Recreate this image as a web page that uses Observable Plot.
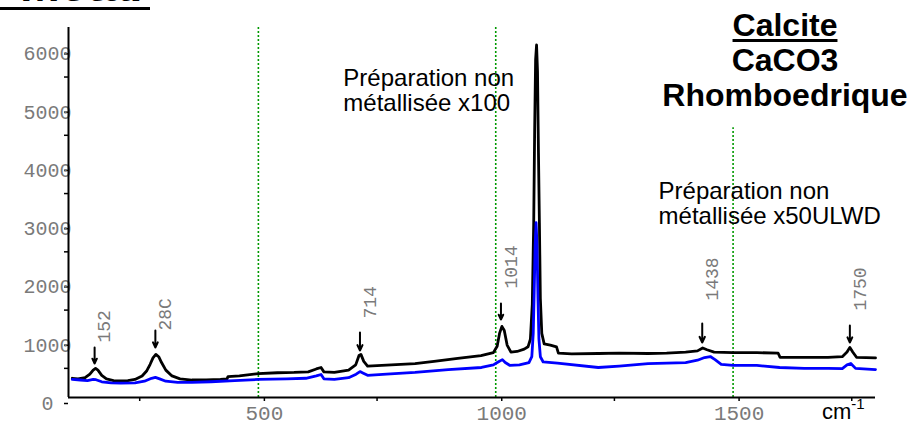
<!DOCTYPE html>
<html><head><meta charset="utf-8">
<script src="https://cdn.jsdelivr.net/npm/d3@7"></script>
<script src="https://cdn.jsdelivr.net/npm/@observablehq/plot@0.6"></script>
<style>
body{margin:0;background:#fff;}
#wrap{position:relative;width:922px;height:425px;overflow:hidden;background:#fff;}
#wrap svg{position:absolute;left:0;top:0;}
.title{position:absolute;left:635px;top:8px;width:300px;text-align:center;font:bold 32px/35px "Liberation Sans",Arial,sans-serif;color:#000;}
.title u{text-decoration-thickness:3px;text-underline-offset:3px;}
.cut{position:absolute;left:20px;top:-39px;font:bold 48px/48px "Liberation Sans",Arial,sans-serif;color:#000;}
.bar{position:absolute;left:0;top:7px;width:150px;height:3px;background:#000;}
.unit{position:absolute;left:822px;top:397px;font:22px "Liberation Sans",Arial,sans-serif;color:#000;}
.unit sup{font-size:15px;position:relative;top:-2px;}
</style></head><body><div id="wrap"></div>
<script>
// Black spectrum: "Préparation non métallisée x100"
const blackWavenumber = [108,120,135,145,152,157,162,170,180,195,210,225,240,255,265,272,278,284,290,296,305,318,335,360,390,420,434,436,460,500,540,575,605,622,632,638,660,690,705,712,716,722,730,760,800,830,870,920,969,995,1003,1008,1013,1018,1024,1032,1045,1060,1068,1073,1077,1080,1082,1084,1086,1088,1090,1092,1094,1097,1102,1115,1128,1132,1160,1216,1260,1321,1360,1400,1425,1436,1445,1460,1500,1550,1595,1599,1650,1700,1730,1740,1746,1752,1760,1800];
const blackIntensity  = [330,320,340,400,470,500,470,380,320,290,285,290,310,370,460,570,680,740,700,600,470,370,320,300,300,310,320,360,370,410,425,430,440,490,515,440,430,470,560,720,740,620,540,550,570,583,620,670,720,770,880,1100,1220,1150,900,780,790,830,870,1000,1600,3000,4600,5800,6050,5600,4200,3000,1700,1100,920,900,870,760,750,755,760,755,760,780,800,850,820,780,770,770,760,690,690,690,700,780,860,780,690,680];
// Blue spectrum: "Préparation non métallisée x50ULWD"
const blueWavenumber = [108,125,140,152,158,170,190,210,240,260,275,283,292,305,330,360,400,450,500,560,600,622,632,638,660,690,706,714,720,730,770,830,900,970,995,1005,1014,1020,1030,1050,1070,1076,1079,1081,1083,1085,1087,1089,1091,1094,1100,1130,1216,1260,1321,1400,1425,1440,1452,1462,1475,1500,1550,1598,1650,1700,1730,1740,1748,1758,1800];
const blueIntensity  = [310,300,290,310,305,270,250,245,250,280,330,345,320,280,260,260,270,290,310,320,330,370,395,320,310,340,400,445,420,380,400,430,480,515,560,610,650,600,550,560,600,700,1100,1800,2600,3000,2600,1700,1000,700,610,590,515,540,583,600,640,686,703,650,570,550,550,515,500,500,497,560,583,500,480];

// Peak annotations (wavenumber, label, arrow tail/tip and label base in intensity units)
const peakWavenumber = [155,283,714,1011,1435,1746];
const peakLabel      = ["152","28C","714","1014","1438","1750"];
const arrowTail      = [858,1150,1115,1612,1270,1235];
const arrowTip       = [583,858,806,1338,943,943];
const labelBase      = [943,1150,1355,1870,1664,1492];

// Green dotted guide lines
const guideWavenumber = [500,1000,1500];
const guideTop        = [6350,6350,4630];

// Axis ticks
const yTicks = [0,1000,2000,3000,4000,5000,6000];
const yMinorTicks = [500,1500,2500,3500,4500,5500];
const xTicks = [500,1000,1500];
const xMinorTicks = [250,750,1250,1750];

// Text notes
const noteText = ["Préparation non\nmétallisée x100","Préparation non\nmétallisée x50ULWD"];
const noteWavenumber = [679,1343];
const noteIntensity = [5643,3705];

const black = blackWavenumber.map((x,i)=>({x, y: blackIntensity[i]}));
const blue = blueWavenumber.map((x,i)=>({x, y: blueIntensity[i]}));
const peaks = peakWavenumber.map((x,i)=>({x, label: peakLabel[i], y1: arrowTail[i], y2: arrowTip[i], ly: labelBase[i]}));
const guides = guideWavenumber.map((x,i)=>({x, top: guideTop[i]}));
const notes = noteText.map((t,i)=>({t, x: noteWavenumber[i], y: noteIntensity[i]}));

const mono = "Liberation Mono, Courier New, monospace";
const sans = "Liberation Sans, Arial, sans-serif";
const grey = "#7a7a7a";

const chart = Plot.plot({
  width: 922, height: 425,
  marginLeft: 68, marginRight: 47, marginTop: 27, marginBottom: 28,
  x: {domain: [100,1800], label: null},
  y: {domain: [0,6350], label: null},
  style: {background: "#fff", fontFamily: mono},
  marks: [
    Plot.ruleX(guides, {x: "x", y1: 0, y2: "top", stroke: "#009900", strokeWidth: 1.6, strokeDasharray: "2,2"}),
    Plot.line(black, {x: "x", y: "y", stroke: "#000", strokeWidth: 2.8}),
    Plot.line(blue, {x: "x", y: "y", stroke: "#0000ff", strokeWidth: 2.8}),
    Plot.arrow(peaks, {x1: "x", x2: "x", y1: "y1", y2: "y2", stroke: "#000", strokeWidth: 2, headLength: 8, headAngle: 50}),
    Plot.text(peaks, {x: "x", y: "ly", text: "label", rotate: -90, textAnchor: "start", dx: 10, fontSize: 18, fontFamily: mono, fill: grey}),
    Plot.text(notes, {x: "x", y: "y", text: "t", textAnchor: "start", lineAnchor: "top", fontSize: 24, lineHeight: 1.04, fontFamily: sans, fill: "#000"}),
    Plot.axisY(yMinorTicks, {tickSize: 4, text: null, label: null, stroke: "#000", strokeWidth: 1.5}),
    Plot.axisY(yTicks, {tickSize: 4, tickPadding: 17, textAnchor: "middle", dy: 6, label: null, fontSize: 20, fontFamily: mono, fill: grey, stroke: "#000", strokeWidth: 1.5, tickFormat: d => String(d)}),
    Plot.axisX(xMinorTicks, {tickSize: 4, text: null, label: null, stroke: "#000", strokeWidth: 1.5}),
    Plot.axisX(xTicks, {tickSize: 4, tickPadding: 4, dx: 6, label: null, fontSize: 21, fontFamily: mono, fill: grey, stroke: "#000", strokeWidth: 1.5, tickFormat: d => String(d)}),
    Plot.ruleX([100], {stroke: "#000", strokeWidth: 2}),
    Plot.ruleY([0], {stroke: "#000", strokeWidth: 2})
  ]
});

const wrap = document.getElementById("wrap");
wrap.appendChild(chart);
const cut = document.createElement("div"); cut.className = "cut"; cut.textContent = "Métal"; wrap.appendChild(cut);
const bar = document.createElement("div"); bar.className = "bar"; wrap.appendChild(bar);
const title = document.createElement("div"); title.className = "title";
title.innerHTML = "<u>Calcite</u><br>CaCO3<br>Rhomboedrique"; wrap.appendChild(title);
const unit = document.createElement("div"); unit.className = "unit";
unit.innerHTML = "cm<sup>-1</sup>"; wrap.appendChild(unit);
</script>
</body></html>
